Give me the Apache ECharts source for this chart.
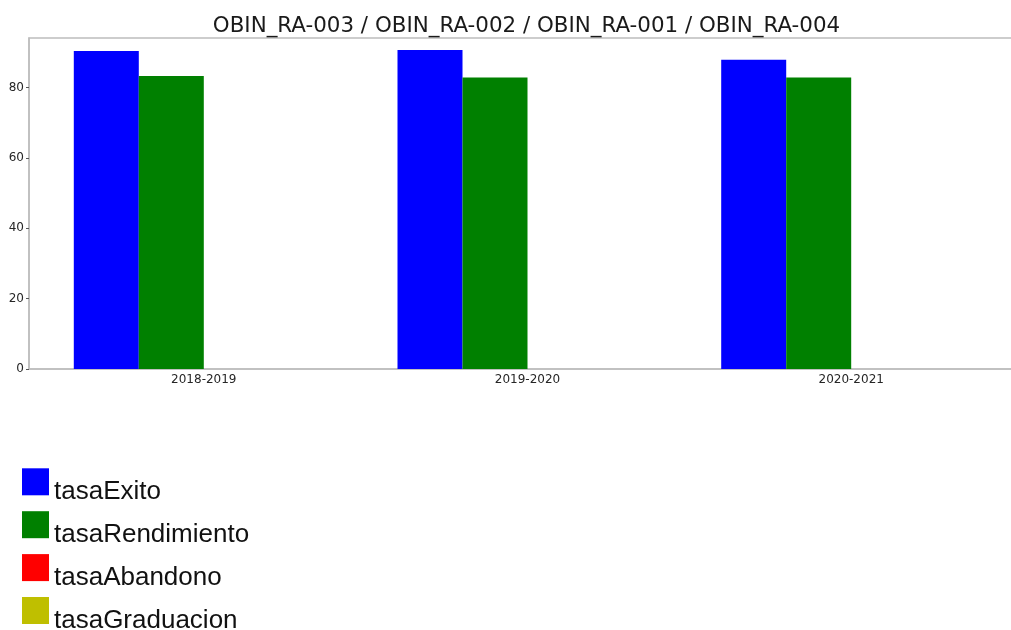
<!DOCTYPE html>
<html>
<head>
<meta charset="utf-8">
<script src="https://cdn.jsdelivr.net/npm/echarts@6/dist/echarts.min.js"></script>
<style>
html,body{margin:0;padding:0;background:#fff;}
#chart{width:1011px;height:630px;}
</style>
</head>
<body>
<div id="chart"></div>
<script>
var titleText = 'OBIN_RA-003 / OBIN_RA-002 / OBIN_RA-001 / OBIN_RA-004';
var categories = ['2018-2019', '2019-2020', '2020-2021'];
var seriesNames = ['tasaExito', 'tasaRendimiento', 'tasaAbandono', 'tasaGraduacion'];
var tasaExito = [90.4, 90.7, 87.9];
var tasaRendimiento = [83.3, 82.9, 82.9];
var tasaAbandono = [0, 0, 0];
var tasaGraduacion = [0, 0, 0];
var seriesColors = ['#0000ff', '#008000', '#ff0000', '#bfbf00'];
var yTickValues = [0, 20, 40, 60, 80];

var seriesValues = [tasaExito, tasaRendimiento, tasaAbandono, tasaGraduacion];
var catIndex = categories.map(function (c, i) { return i; });

var chart = echarts.init(document.getElementById('chart'));
chart.setOption({
  animation: false,
  backgroundColor: '#fff',
  title: {
    text: titleText,
    left: 521.5, top: 11,
    textAlign: 'center',
    textStyle: { fontFamily: 'DejaVu Sans', fontSize: 21.4, fontWeight: 'normal', color: '#1a1a1a' }
  },
  grid: {
    left: 29, top: 38, width: 997, height: 331,
    outerBoundsMode: 'none',
    show: true, borderColor: '#bdbdbd', borderWidth: 1.5, containLabel: false
  },
  legend: {
    orient: 'vertical',
    left: 22, top: 468.3,
    height: 200,
    padding: 0,
    itemWidth: 27, itemHeight: 27,
    itemGap: 5.9,
    icon: 'rect',
    data: seriesNames,
    formatter: function (name) { return '{s| }\n{t|' + name + '}'; },
    textStyle: {
      fontFamily: 'Liberation Sans', fontSize: 26, color: '#111',
      rich: {
        s: { fontSize: 1, lineHeight: 21 },
        t: { fontFamily: 'Liberation Sans', fontSize: 26, color: '#111', lineHeight: 14 }
      }
    }
  },
  xAxis: {
    type: 'value',
    min: -0.54, max: 2.54,
    splitLine: { show: false },
    axisLine: { show: true, onZero: false, lineStyle: { color: '#bdbdbd', width: 1.5 } },
    axisTick: { show: false },
    axisLabel: {
      customValues: catIndex,
      formatter: function (v) { return categories[Math.round(v)] || ''; },
      fontFamily: 'DejaVu Sans', fontSize: 12, color: '#262626', margin: 5
    }
  },
  yAxis: {
    type: 'value',
    min: 0, max: 94.1, interval: 20,
    splitLine: { show: false },
    axisLine: { show: true, onZero: false, lineStyle: { color: '#bdbdbd', width: 1.5 } },
    axisTick: { show: true, length: 3, lineStyle: { color: '#555' }, customValues: yTickValues },
    axisLabel: {
      customValues: yTickValues,
      fontFamily: 'DejaVu Sans', fontSize: 12, color: '#262626', margin: 5
    }
  },
  series: seriesNames.map(function (name, s) {
    return {
      name: name,
      type: 'bar',
      barWidth: 65,
      barGap: '0%',
      itemStyle: { color: seriesColors[s] },
      data: catIndex.map(function (i) { return [i, seriesValues[s][i]]; })
    };
  })
});
</script>
</body>
</html>
